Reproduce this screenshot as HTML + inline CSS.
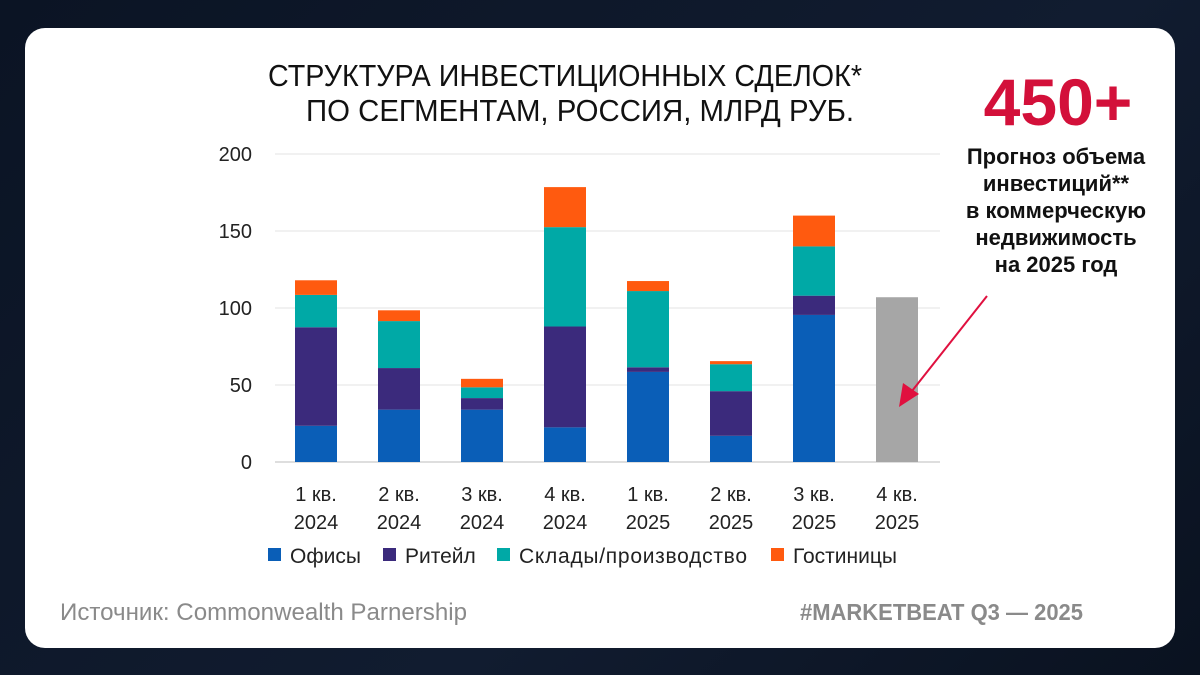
<!DOCTYPE html>
<html><head><meta charset="utf-8"><style>
html,body{margin:0;padding:0}
body{width:1200px;height:675px;background:linear-gradient(135deg,#0b1424,#111c30 60%,#0a1220);position:relative;overflow:hidden;font-family:"Liberation Sans",sans-serif}
#card{position:absolute;left:25px;top:28px;width:1150px;height:620px;background:#fff;border-radius:20px}
</style></head><body>
<div id="card"></div>
<svg width="1200" height="675" style="position:absolute;left:0;top:0">
<g font-family="'Liberation Sans',sans-serif">
<text x="268" y="86" textLength="594" lengthAdjust="spacingAndGlyphs" font-size="31" fill="#111">СТРУКТУРА ИНВЕСТИЦИОННЫХ СДЕЛОК*</text>
<text x="306" y="121" textLength="548" lengthAdjust="spacingAndGlyphs" font-size="31" fill="#111">ПО СЕГМЕНТАМ, РОССИЯ, МЛРД РУБ.</text>
<text x="1058" y="125" text-anchor="middle" font-size="66" font-weight="bold" fill="#d3103a">450+</text>
<g font-size="22" font-weight="bold" fill="#111" text-anchor="middle">
<text x="1056" y="164">Прогноз объема</text>
<text x="1056" y="191">инвестиций**</text>
<text x="1056" y="218">в коммерческую</text>
<text x="1056" y="245">недвижимость</text>
<text x="1056" y="272">на 2025 год</text>
</g>
<text x="60" y="620" textLength="407" lengthAdjust="spacingAndGlyphs" font-size="24" fill="#8a8a8a">Источник: Commonwealth Parnership</text>
<text x="800" y="620" textLength="283" lengthAdjust="spacingAndGlyphs" font-size="23" font-weight="bold" fill="#8a8a8a">#MARKETBEAT Q3 — 2025</text>
</g>
<g id="plot"></g>
<line x1="987" y1="296" x2="912" y2="391" stroke="#e0103f" stroke-width="2"/>
<polygon points="899,407 903,383 919,394" fill="#e0103f"/>
</svg>
<script>
const categories=[["1 кв.","2024"],["2 кв.","2024"],["3 кв.","2024"],["4 кв.","2024"],["1 кв.","2025"],["2 кв.","2025"],["3 кв.","2025"],["4 кв.","2025"]];
const offices=[23.5,34,34,22.5,58.5,17,95.5,0];
const retail=[64,27,7.5,65.5,3,29,12.5,0];
const warehouses=[21,30.5,7,64.5,49.5,17.5,32,0];
const hotels=[9.5,7,5.5,26,6.5,2,20,0];
const forecast=[0,0,0,0,0,0,0,107];
const yTicks=[0,50,100,150,200];
const seriesNames=["Офисы","Ритейл","Склады/производство","Гостиницы"];
const colors=["#0a5eb7","#3b2a7c","#00a9a6","#ff5a0f"];
const legendX=[268,383,497,771];
const NS="http://www.w3.org/2000/svg";
const g=document.getElementById('plot');
const y0=462,yScale=v=>y0-v*1.54,xc=i=>316+i*83,bw=42;
function mk(t,a){const e=document.createElementNS(NS,t);for(const k in a)e.setAttribute(k,a[k]);g.appendChild(e);return e;}
yTicks.forEach(t=>{
 const l=mk('line',{x1:275,x2:940,y1:yScale(t),y2:yScale(t),stroke:t===0?'#bdbdbd':'#e3e3e3','stroke-width':1});
 
 
 const tx=mk('text',{x:252,y:yScale(t)+7,'text-anchor':'end','font-size':20,fill:'#222','font-family':'Liberation Sans,sans-serif'});
 tx.textContent=t;
 
 
});
const series=[offices,retail,warehouses,hotels];
categories.forEach((c,i)=>{
 let base=0;
 series.forEach((s,k)=>{
  if(s[i]>0){const r=mk('rect',{x:xc(i)-bw/2,y:yScale(base+s[i]),width:bw,height:s[i]*1.54,fill:colors[k]});
  
  }
  base+=s[i];
 });
 if(forecast[i]>0){const r=mk('rect',{x:xc(i)-bw/2,y:yScale(forecast[i]),width:bw,height:forecast[i]*1.54,fill:'#a6a6a6'});
  
  }
 c.forEach((ln,j)=>{const t=mk('text',{x:xc(i),y:501+j*28,'text-anchor':'middle','font-size':20,fill:'#222','font-family':'Liberation Sans,sans-serif'});
  t.textContent=ln;
  
  });
});
seriesNames.forEach((n,k)=>{
 const lx=legendX[k];
 const r=mk('rect',{x:lx,y:548,width:13,height:13,fill:colors[k]});
 
 
 const t=mk('text',{x:lx+22,y:563,'font-size':21,fill:'#222','font-family':'Liberation Sans,sans-serif'});
 t.textContent=n;
 if(k===2){t.setAttribute('textLength',228);}
 
 
});
</script>
</body></html>
